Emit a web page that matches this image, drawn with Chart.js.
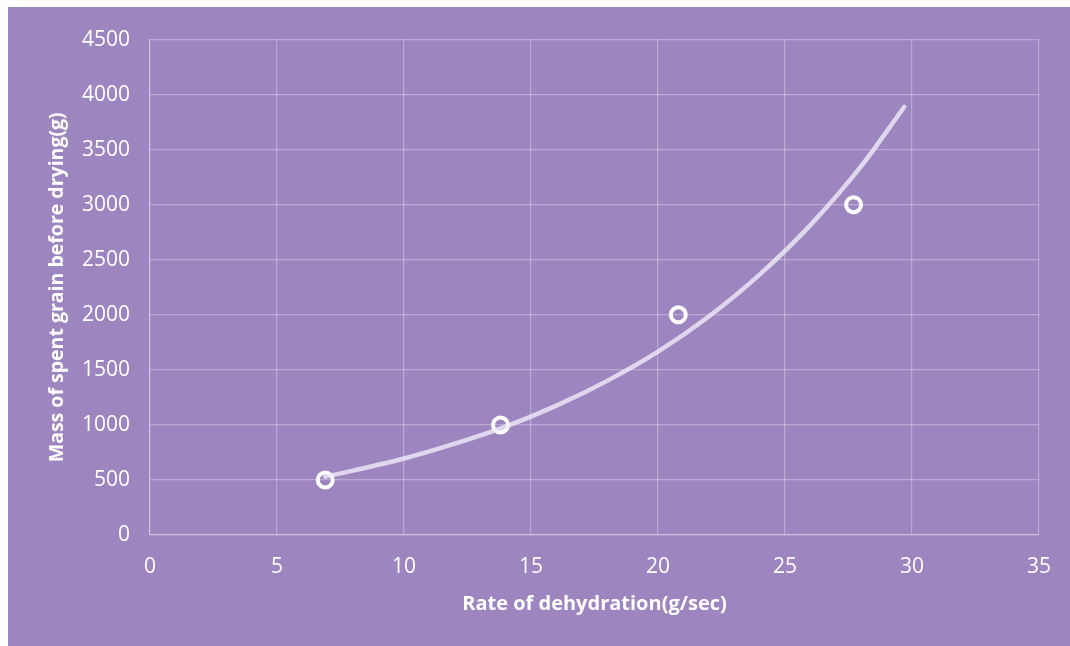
<!DOCTYPE html>
<html>
<head>
<meta charset="utf-8">
<script src="https://cdn.jsdelivr.net/npm/chart.js@4.4.1/dist/chart.umd.min.js"></script>
<style>
  html, body { margin: 0; padding: 0; background: #ffffff; }
  #wrap { position: absolute; left: 8px; top: 7px; width: 1062px; height: 639px; background: #9d85c0; }
</style>
</head>
<body>
<div id="wrap"><canvas id="myChart" width="1062" height="639"></canvas></div>
<script>
// measured points
let rateValues = [6.9, 13.8, 20.8, 27.7];
let massValues = [500, 1000, 2000, 3000];

// trend line
let trendX = [6.9, 8, 10, 12, 14, 16, 18, 20, 22, 24, 26, 28, 29.7];
let trendY = [530, 585, 695, 830, 985, 1175, 1400, 1665, 1985, 2365, 2815, 3350, 3890];

let gridColor = 'rgba(255, 255, 255, 0.3)';

let ctx = document.getElementById('myChart').getContext('2d');

let myChart = new Chart(ctx, {
  type: 'scatter',
  data: {
    datasets: [{
      label: 'Trend',
      type: 'line',
      data: trendX.map((x, i) => ({x: x, y: trendY[i]})),
      borderColor: 'rgba(240, 235, 248, 0.8)',
      borderWidth: 4.5,
      borderCapStyle: 'round',
      pointRadius: 0,
      fill: false,
      cubicInterpolationMode: 'monotone'
    }, {
      label: 'Mass',
      data: rateValues.map((x, i) => ({x: x, y: massValues[i]})),
      pointRadius: 7.5,
      pointBorderWidth: 4,
      pointBorderColor: '#ffffff',
      pointBackgroundColor: 'rgba(0,0,0,0)',
      showLine: false
    }]
  },
  options: {
    responsive: false,
    animation: false,
    layout: { padding: { left: 0, top: 28, right: 26, bottom: 0 } },
    plugins: { legend: { display: false }, tooltip: { enabled: false } },
    scales: {
      x: {
        type: 'linear',
        min: 0, max: 35,
        ticks: { stepSize: 5, color: '#ffffff', font: { family: 'Open Sans', size: 21 }, padding: 19,
                 callback: v => String(v) },
        grid: { color: gridColor, lineWidth: 1.2, drawTicks: false },
        border: { color: gridColor, width: 1.2 },
        title: { display: true, text: 'Rate of dehydration(g/sec)', color: '#ffffff',
                 font: { family: 'Open Sans', size: 20, weight: 'bold' }, padding: { top: 10, bottom: 30 } },
        afterFit: scale => { scale.height = 111; }
      },
      y: {
        min: 0, max: 4500,
        ticks: { stepSize: 500, color: '#ffffff', font: { family: 'Open Sans', size: 21 }, padding: 20,
                 callback: v => String(v) },
        grid: { color: gridColor, lineWidth: 1.2, drawTicks: false },
        border: { color: gridColor, width: 1.2 },
        title: { display: true, text: 'Mass of spent grain before drying(g)', color: '#ffffff',
                 font: { family: 'Open Sans', size: 19.5, weight: 'bold' }, padding: { top: 38, bottom: 0 } },
        afterFit: scale => { scale.width = 142; }
      }
    }
  }
});
</script>
</body>
</html>
